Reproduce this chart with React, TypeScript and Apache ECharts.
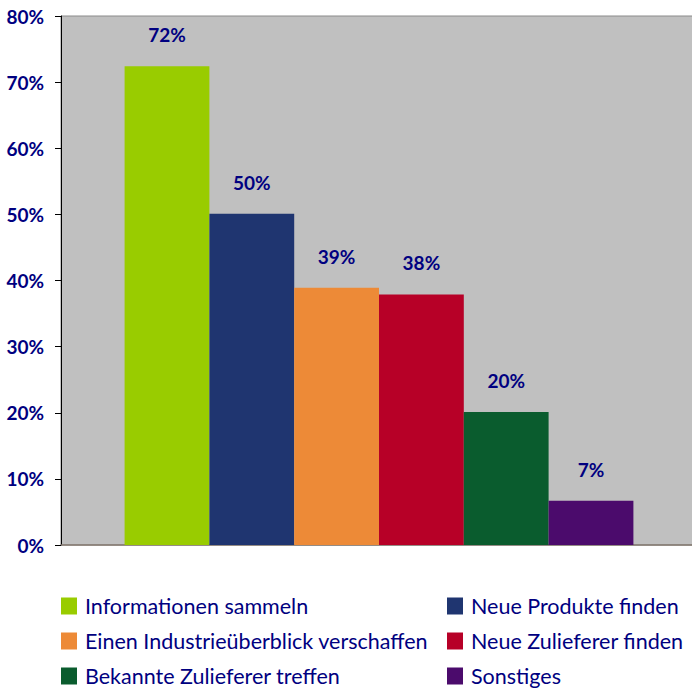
import React, { useEffect, useRef } from "react";
import * as echarts from "echarts";

const seriesNames = [
  "Informationen sammeln",
  "Neue Produkte finden",
  "Einen Industrieüberblick verschaffen",
  "Neue Zulieferer finden",
  "Bekannte Zulieferer treffen",
  "Sonstiges",
];
const seriesValues = [72.4, 50.1, 38.9, 37.9, 20.1, 6.7];
const seriesColors = ["#99CC00", "#1F3570", "#ED8A37", "#B70027", "#0A5C2E", "#4B0B6C"];
const categories = [""];
const yTicks = { min: 0, max: 80, interval: 10 };

const NAVY = "#000080";
const FONT = "Lato";

export default function App() {
  const ref = useRef<HTMLDivElement>(null);
  useEffect(() => {
    if (!ref.current) return;
    const chart = echarts.init(ref.current, undefined, { renderer: "svg" });
    const legendText = { color: NAVY, fontSize: 21.5, fontFamily: FONT, padding: [0, 0, 0, 3] };
    const legendBase = {
      orient: "vertical",
      top: 595,
      padding: 0,
      itemWidth: 16,
      itemHeight: 17,
      itemGap: 13,
      icon: "rect",
      textStyle: legendText,
    };
    chart.setOption({
      animation: false,
      grid: {
        left: 61,
        top: 16,
        right: 7,
        bottom: 155,
        show: true,
        backgroundColor: "#C0C0C0",
        borderColor: "#8a8a8a",
        borderWidth: 1,
      },
      xAxis: {
        type: "category",
        data: categories,
        axisLine: { show: true, lineStyle: { color: "#857a70", width: 1.5 } },
        axisTick: { show: false },
        axisLabel: { show: false },
        splitLine: { show: false },
      },
      yAxis: {
        type: "value",
        min: yTicks.min,
        max: yTicks.max,
        interval: yTicks.interval,
        axisLine: { show: true, lineStyle: { color: "#000000", width: 1 } },
        axisTick: { show: true, length: 6, lineStyle: { color: "#000000" } },
        axisLabel: {
          formatter: "{value}%",
          color: NAVY,
          fontWeight: "bold",
          fontSize: 19,
          fontFamily: FONT,
          margin: 17,
        },
        splitLine: { show: false },
      },
      legend: [
        { ...legendBase, left: 61, data: [seriesNames[0], seriesNames[2], seriesNames[4]] },
        { ...legendBase, left: 447, data: [seriesNames[1], seriesNames[3], seriesNames[5]] },
      ],
      series: seriesNames.map((name, i) => ({
        name,
        type: "bar",
        data: [seriesValues[i]],
        barGap: "0%",
        barCategoryGap: "20%",
        itemStyle: { color: seriesColors[i] },
        label: {
          show: true,
          position: "top",
          distance: 22,
          formatter: (p: any) => Math.round(p.value) + "%",
          color: NAVY,
          fontWeight: "bold",
          fontSize: 19,
          fontFamily: FONT,
        },
      })),
    });
    return () => chart.dispose();
  }, []);
  return (
    <div style={{ position: "absolute", left: 0, top: 0, width: 692, height: 700, overflow: "hidden" }}>
      <div ref={ref} style={{ width: 704, height: 700 }} />
    </div>
  );
}
